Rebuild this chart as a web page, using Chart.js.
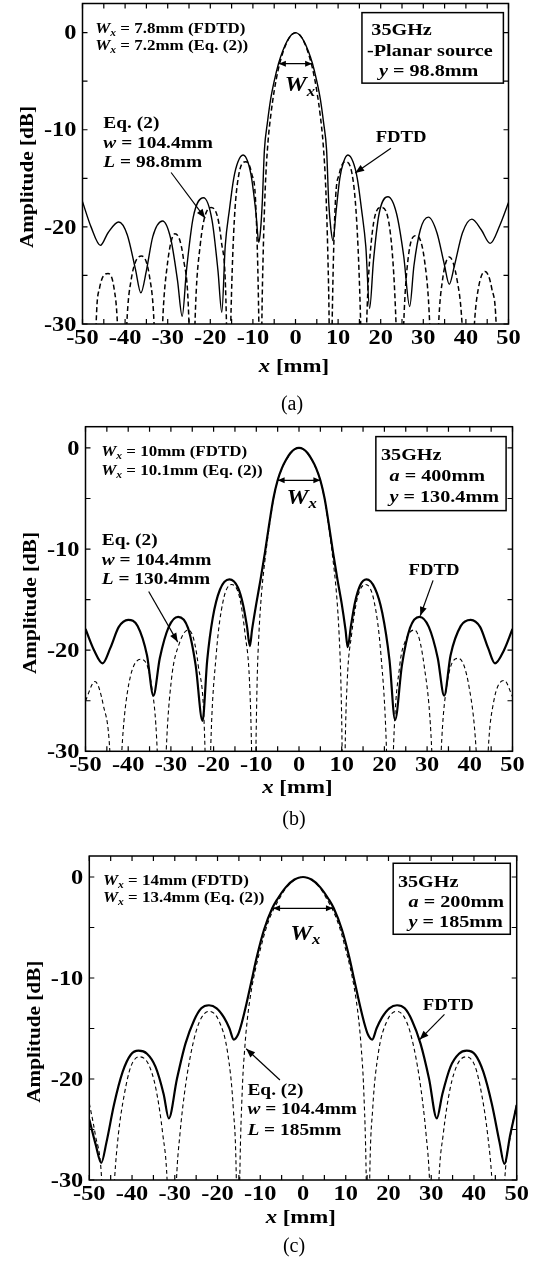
<!DOCTYPE html>
<html>
<head>
<meta charset="utf-8">
<script src="https://cdn.jsdelivr.net/npm/chart.js@4.4.1/dist/chart.umd.min.js"></script>
<style>
  body { margin: 0; background: #fff; width: 537px; height: 1263px; position: relative; overflow: hidden; }
  .panel { position: absolute; left: 0; width: 537px; }
  canvas { display: block; }
</style>
</head>
<body>
<div class="panel" style="top:0;height:420px"><canvas id="chartA" width="537" height="420"></canvas></div>
<div class="panel" style="top:420px;height:420px"><canvas id="chartB" width="537" height="420"></canvas></div>
<div class="panel" style="top:840px;height:423px"><canvas id="chartC" width="537" height="423"></canvas></div>
<script>
const SERIF = '"Liberation Serif","Times New Roman",serif';

// axis ticks (labelled)
const xTicks = [-50, -40, -30, -20, -10, 0, 10, 20, 30, 40, 50];
const yTicks = [-30, -20, -10, 0];

// (a) planar source, y = 98.8mm   [x mm, dB]
const fdtdA = [[-50,-17.4],[-48,-20.0],[-45.8,-21.9],[-44,-20.6],[-41.5,-19.5],[-39.5,-20.8],[-37.6,-24.3],[-36.3,-26.8],
  [-35,-24.5],[-33.5,-21.0],[-31.2,-19.4],[-29.3,-21.2],[-27.7,-25.5],[-26.6,-29.2],[-25.6,-24.5],[-24,-19.0],[-21.6,-17.0],
  [-19.6,-19.3],[-18.2,-24.5],[-17.3,-28.8],[-16.5,-22.0],[-15.5,-18.2],[-14.5,-15.0],[-13.5,-13.3],[-12.3,-12.6],[-11.2,-13.3],
  [-10.3,-15.0],[-9.3,-18.5],[-8.6,-21.6],[-8.2,-20.3],[-7.8,-17.5],[-7.3,-12.1],[-6.6,-9.3],[-5.85,-6.9],[-5,-5.0],[-4,-3.2],
  [-3,-1.9],[-2,-0.9],[-1,-0.25],[0,0],[1,-0.25],[2,-0.9],[3,-1.9],[4,-3.2],[5,-5.0],[5.85,-6.9],[6.6,-9.3],[7.3,-12.1],
  [7.8,-17.5],[8.3,-20.2],[8.8,-21.4],[9.5,-18.5],[10.4,-15.0],[11.3,-13.3],[12.3,-12.6],[13.5,-13.3],[14.5,-15.0],[15.5,-18.2],
  [16.5,-22.0],[17.4,-28.4],[18.3,-23.5],[19.6,-18.7],[21.7,-16.9],[23.7,-18.6],[25.4,-23.0],[26.8,-28.2],[27.8,-24.0],
  [29.3,-20.3],[31.2,-19.0],[33.2,-20.6],[34.9,-23.8],[36.1,-25.9],[37.3,-24.0],[39.2,-20.6],[41.4,-19.2],[43.6,-20.3],
  [45.7,-21.7],[48,-19.8],[50,-17.5]];
const eqA = [[-50,-45],[-47.5,-45],[-46.8,-30],[-46.0,-26.3],[-44.0,-24.8],[-42.6,-26.3],[-41.8,-30],[-40.7,-45],[-39.6,-30],
  [-38.6,-25.5],[-36.1,-23.0],[-34.2,-25.3],[-33.2,-30],[-32.2,-45],[-31.2,-30],[-30.2,-24.3],[-28.3,-20.7],[-26.3,-23.3],
  [-25.0,-30],[-24.3,-45],[-23.6,-30],[-22.4,-22.0],[-19.8,-18.0],[-17.4,-21.5],[-16.2,-30],[-15.8,-45],[-15.2,-30],
  [-14.5,-20.5],[-13.3,-14.6],[-11.7,-13.3],[-10.3,-14.5],[-9.3,-18],[-8.6,-30],[-8.2,-45],[-7.9,-30],[-7.6,-23],[-7.1,-16],
  [-6.5,-11.5],[-5.8,-8.5],[-5,-6.0],[-4,-3.7],[-3,-2.1],[-2,-0.95],[-1,-0.25],[0,0],[1,-0.25],[2,-0.95],[3,-2.1],[4,-3.7],
  [5,-6.0],[5.8,-8.5],[6.5,-11.5],[7.1,-16],[7.6,-23],[7.9,-30],[8.2,-45],[8.6,-30],[9.3,-18],[10.3,-14.5],[11.7,-13.3],
  [13.3,-14.6],[14.5,-20.5],[15.3,-30],[16.0,-45],[16.7,-30],[17.8,-21.5],[20.1,-18.0],[22.5,-21.6],[23.6,-30],[24.5,-45],
  [25.4,-30],[26.4,-23.4],[28.3,-20.9],[30.3,-23.5],[31.5,-30],[32.5,-45],[33.6,-30],[34.5,-25.5],[36.1,-23.1],[37.9,-25.4],
  [39.1,-30],[40.5,-45],[42.0,-30],[42.9,-26.4],[44.5,-24.6],[46.1,-26.4],[47.1,-30],[48,-45],[50,-45]];

// (b) a = 400mm, y = 130.4mm
const fdtdB = [[-50,-17.9],[-48,-20.0],[-46,-21.3],[-44.2,-19.8],[-42.2,-17.7],[-40,-17.0],[-37.8,-17.6],[-35.6,-20.5],
  [-34.1,-24.5],[-32.6,-20.8],[-30.5,-17.7],[-28.3,-16.7],[-26,-17.8],[-24.2,-21.5],[-22.6,-27.0],[-21.5,-21.0],[-20.2,-16.8],
  [-18.5,-14.0],[-16.3,-13.0],[-14.3,-13.8],[-13.1,-15.5],[-12.2,-17.6],[-11.5,-19.6],[-11,-18.0],[-10,-15.4],[-9,-13.0],
  [-8,-10.4],[-7,-7.6],[-6,-5.0],[-5,-3.2],[-4,-2.0],[-3,-1.15],[-2,-0.5],[-1,-0.12],[0,0],[1,-0.12],[2,-0.5],[3,-1.15],
  [4,-2.0],[5,-3.2],[6,-5.0],[7,-7.6],[8,-10.4],[9,-13.0],[10,-15.4],[10.9,-18.0],[11.4,-19.7],[12.2,-17.5],[13.1,-15.3],
  [14.3,-13.6],[15.8,-13.0],[17.8,-13.9],[19.5,-16.3],[21.2,-21.0],[22.5,-26.9],[24.1,-21.5],[26,-17.8],[28.2,-16.7],
  [30.4,-17.7],[32.5,-20.8],[34,-24.5],[35.5,-20.5],[37.9,-17.6],[40.2,-17.0],[42.4,-17.7],[44.3,-19.8],[45.9,-21.3],
  [48,-20.0],[50,-17.9]];
const eqB = [[-50,-25.0],[-47.8,-23.1],[-45.8,-25.5],[-44.3,-30],[-43.0,-45],[-41.5,-30],[-40.2,-24.2],[-37.0,-20.9],
  [-34.5,-23.6],[-33.2,-30],[-32.2,-45],[-31.1,-30],[-29.9,-23.0],[-28.0,-19.3],[-25.9,-18.0],[-23.6,-21.5],[-22.0,-30],
  [-21.4,-45],[-20.7,-30],[-19.4,-20.5],[-17.8,-15.2],[-15.8,-13.5],[-13.9,-14.8],[-12.6,-18.5],[-11.6,-23],[-11.1,-30],
  [-10.6,-45],[-10.1,-30],[-9.8,-23],[-9.4,-18.5],[-8.8,-14.5],[-8,-11.2],[-7,-7.9],[-6,-5.1],[-5,-3.2],[-4,-2.05],[-3,-1.2],
  [-2,-0.55],[-1,-0.14],[0,0],[1,-0.14],[2,-0.55],[3,-1.2],[4,-2.05],[5,-3.2],[6,-5.1],[7,-7.9],[8,-11.2],[8.8,-14.5],
  [9.4,-18.5],[9.8,-23],[10.1,-30],[10.4,-45],[10.8,-30],[11.3,-23],[12.3,-18.5],[13.7,-14.8],[15.6,-13.5],[17.6,-15.2],
  [19.2,-20.5],[20.5,-30],[21.3,-45],[22.1,-30],[23.6,-21.5],[25.0,-19.0],[27.0,-18.0],[29.3,-21.5],[31.1,-30],[32.2,-45],
  [33.3,-30],[34.5,-23.8],[37.3,-20.8],[39.9,-23.8],[41.5,-30],[43.0,-45],[44.3,-30],[45.5,-25.3],[48.1,-23.0],[50,-24.6]];

// (c) a = 200mm, y = 185mm
const fdtdC = [[-50,-24.0],[-48.5,-26.5],[-47.2,-28.3],[-46.0,-26.3],[-44.2,-22.5],[-42.2,-19.3],[-40.3,-17.6],[-38.5,-17.2],
  [-36.5,-17.5],[-34.5,-18.8],[-32.6,-21.5],[-31.4,-23.9],[-29.5,-20.0],[-27.5,-16.5],[-25.5,-14.2],[-23.8,-13.0],[-22,-12.7],
  [-20.2,-13.0],[-18.5,-13.9],[-17.2,-15.0],[-16.2,-16.1],[-15.2,-15.6],[-14.3,-14.4],[-13.2,-12.5],[-12,-10.2],[-10.8,-7.9],
  [-9.1,-5.2],[-7.2,-3.1],[-6,-2.2],[-4,-1.0],[-2,-0.25],[0,0],[2,-0.25],[4,-1.0],[6,-2.2],[7.2,-3.1],[9.1,-5.2],[10.8,-7.9],
  [12,-10.2],[13.2,-12.5],[14.3,-14.4],[15.2,-15.6],[16.2,-16.1],[17.2,-15.0],[18.5,-13.9],[20.2,-13.0],[22,-12.7],[23.8,-13.0],
  [25.5,-14.2],[27.5,-16.5],[29.5,-20.0],[31.3,-23.9],[32.6,-21.5],[34.5,-18.8],[36.5,-17.5],[38.3,-17.2],[40.3,-17.6],
  [42.2,-19.3],[44.2,-22.5],[46,-26.3],[47.1,-28.4],[48.5,-25.5],[50,-22.6]];
const eqC = [[-50,-22.4],[-48.6,-25.5],[-47.1,-30],[-45.8,-45],[-44.1,-30],[-43.2,-25.5],[-41.8,-21.5],[-40.3,-18.8],
  [-38.3,-17.8],[-36.2,-18.5],[-34.4,-21],[-32.8,-25.5],[-31.8,-30],[-30.7,-45],[-29.6,-30],[-28.8,-25.5],[-27.6,-21],
  [-26,-17],[-24.3,-14.4],[-22,-13.3],[-19.6,-14.3],[-17.6,-17.5],[-16.3,-23],[-15.6,-30],[-15.2,-45],[-14.8,-30],[-14.2,-21],
  [-13.6,-16.8],[-13,-14.0],[-12,-11.0],[-11,-8.9],[-10,-7.2],[-9,-5.6],[-8,-4.3],[-7,-3.3],[-6,-2.5],[-4,-1.1],[-2,-0.3],[0,0],
  [2,-0.3],[4,-1.1],[6,-2.5],[7,-3.3],[8,-4.3],[9,-5.6],[10,-7.2],[11,-8.9],[12,-11.0],[13,-14.0],[13.6,-16.8],[14.2,-21],
  [14.8,-30],[15.2,-45],[15.6,-30],[16.3,-23],[17.6,-17.5],[19.6,-14.3],[22,-13.3],[24.3,-14.4],[26,-17],[27.6,-21],[28.8,-25.5],
  [29.6,-30],[30.7,-45],[31.8,-30],[32.8,-25.5],[34.4,-21],[36.2,-18.5],[38.3,-17.8],[40.3,-18.8],[41.8,-21.5],[43.2,-25.5],
  [44.2,-30],[45.8,-45],[47.2,-30],[48.6,-25.5],[50,-22.4]];

// layout and annotations (annotation anchors in data units)
const panelA = {
  id: 'chartA', height: 420, area: { left: 82.5, right: 508.5, top: 3.5, bottom: 324 }, yMax: 3.0,
  solidWidth: 1.4, dashWidth: 1.5, dash: [5, 3],
  wxNote: { x: -47, y: [-0.05, -1.8], values: ['7.8mm (FDTD)', '7.2mm (Eq. (2))'] },
  wxArrow: { y: -3.2, half: 3.9 }, wxLabel: { x: -2.5, y: -6.06 },
  box: { x1: 15.6, x2: 48.8, y1: 2.06, y2: -5.2, lines: [
    { x: 17.8, y: -0.24, segs: [['35GHz', '']] },
    { x: 16.8, y: -2.4, segs: [['-Planar source', '']] },
    { x: 19.6, y: -4.45, segs: [['y', 'i'], [' = 98.8mm', '']] }] },
  eqNote: { x: -45.1, y: [-9.8, -11.9, -13.8], L: '98.8mm' },
  eqArrow: { from: [-29.2, -14.4], to: [-21.2, -19.1] },
  fdtdNote: { x: 24.8, y: -11.3 }, fdtdArrow: { from: [22.4, -11.9], to: [14.0, -14.45] },
  yTitle: { x: 33, y: 177 }, xTitle: { x: 294, y: 372 }, caption: { text: '(a)', x: 292, y: 405 }
};
const panelB = {
  id: 'chartB', height: 420, area: { left: 85.5, right: 512.5, top: 6.7, bottom: 331.3 }, yMax: 2.1,
  solidWidth: 2.2, dashWidth: 1.1, dash: [4, 3],
  wxNote: { x: -46.3, y: [-0.8, -2.7], values: ['10mm (FDTD)', '10.1mm (Eq. (2))'] },
  wxArrow: { y: -3.2, half: 5.0 }, wxLabel: { x: -2.9, y: -5.5 },
  box: { x1: 18.0, x2: 48.5, y1: 1.12, y2: -6.2, lines: [
    { x: 19.2, y: -1.19, segs: [['35GHz', '']] },
    { x: 21.2, y: -3.27, segs: [['a', 'i'], [' = 400mm', '']] },
    { x: 21.2, y: -5.3, segs: [['y', 'i'], [' = 130.4mm', '']] }] },
  eqNote: { x: -46.2, y: [-9.6, -11.6, -13.5], L: '130.4mm' },
  eqArrow: { from: [-35.2, -14.2], to: [-28.4, -19.2] },
  fdtdNote: { x: 31.6, y: -12.6 }, fdtdArrow: { from: [31.4, -13.1], to: [28.4, -16.6] },
  yTitle: { x: 35.9, y: 183 }, xTitle: { x: 297.4, y: 372.5 }, caption: { text: '(b)', x: 294, y: 400 }
};
const panelC = {
  id: 'chartC', height: 423, area: { left: 89.3, right: 516.7, top: 16, bottom: 340 }, yMax: 2.08,
  solidWidth: 2.2, dashWidth: 1.1, dash: [4, 3],
  wxNote: { x: -46.8, y: [-0.8, -2.45], values: ['14mm (FDTD)', '13.4mm (Eq. (2))'] },
  wxArrow: { y: -3.1, half: 7.0 }, wxLabel: { x: -3.0, y: -6.2 },
  box: { x1: 21.1, x2: 48.5, y1: 1.36, y2: -5.67, lines: [
    { x: 22.2, y: -0.96, segs: [['35GHz', '']] },
    { x: 24.7, y: -2.94, segs: [['a', 'i'], [' = 200mm', '']] },
    { x: 24.7, y: -4.98, segs: [['y', 'i'], [' = 185mm', '']] }] },
  eqNote: { x: -13.0, y: [-21.6, -23.5, -25.5], L: '185mm' },
  eqArrow: { from: [-5.4, -20.1], to: [-13.3, -17.0] },
  fdtdNote: { x: 34.0, y: -13.2 }, fdtdArrow: { from: [33.1, -13.6], to: [27.3, -16.1] },
  yTitle: { x: 40.3, y: 191.7 }, xTitle: { x: 300.8, y: 383 }, caption: { text: '(c)', x: 294, y: 407 }
};

function fontOf(size, st) {
  return (st.includes('i') ? 'italic ' : '') + 'bold ' + size + 'px ' + SERIF;
}

// text runs drawn with a slight horizontal stretch, the source font is wider than Times
function drawRich(ctx, x, y, segs, size, stretch, align) {
  let w = 0;
  segs.forEach(([t, st]) => {
    ctx.font = fontOf(st.includes('s') ? size * 0.68 : size, st);
    w += ctx.measureText(t).width;
  });
  w *= stretch;
  const x0 = align === 'center' ? x - w / 2 : align === 'right' ? x - w : x;
  ctx.save();
  ctx.translate(x0, y);
  ctx.scale(stretch, 1);
  ctx.textAlign = 'left';
  ctx.textBaseline = 'alphabetic';
  let cx = 0;
  segs.forEach(([t, st]) => {
    const sub = st.includes('s');
    ctx.font = fontOf(sub ? size * 0.68 : size, st);
    ctx.fillText(t, cx, sub ? size * 0.2 : 0);
    cx += ctx.measureText(t).width;
  });
  ctx.restore();
}

function arrowHead(ctx, x1, y1, x2, y2, len, half) {
  const a = Math.atan2(y2 - y1, x2 - x1), c = Math.cos(a), s = Math.sin(a);
  ctx.beginPath();
  ctx.moveTo(x2, y2);
  ctx.lineTo(x2 - c * len + s * half, y2 - s * len - c * half);
  ctx.lineTo(x2 - c * len - s * half, y2 - s * len + c * half);
  ctx.closePath();
  ctx.fill();
}

function arrow(ctx, x1, y1, x2, y2, len, half) {
  ctx.beginPath();
  ctx.moveTo(x1, y1);
  ctx.lineTo(x2, y2);
  ctx.stroke();
  arrowHead(ctx, x1, y1, x2, y2, len, half);
}

function decor(p) {
  return {
    id: 'decor',
    afterDraw(chart) {
      const { ctx, chartArea: a } = chart;
      const sx = chart.scales.x, sy = chart.scales.y;
      const X = v => sx.getPixelForValue(v), Y = v => sy.getPixelForValue(v);
      ctx.save();
      ctx.strokeStyle = '#000';
      ctx.fillStyle = '#000';

      // frame and inward ticks
      ctx.lineWidth = 1.5;
      ctx.strokeRect(a.left, a.top, a.right - a.left, a.bottom - a.top);
      ctx.lineWidth = 1.2;
      ctx.beginPath();
      for (let v = xTicks[0]; v <= xTicks[xTicks.length - 1]; v += 5) {
        ctx.moveTo(X(v), a.bottom); ctx.lineTo(X(v), a.bottom - 5);
        ctx.moveTo(X(v), a.top); ctx.lineTo(X(v), a.top + 5);
      }
      for (let v = yTicks[0]; v <= yTicks[yTicks.length - 1]; v += 5) {
        ctx.moveTo(a.left, Y(v)); ctx.lineTo(a.left + 5, Y(v));
        ctx.moveTo(a.right, Y(v)); ctx.lineTo(a.right - 5, Y(v));
      }
      ctx.stroke();

      // tick labels from the scales' ticks
      sx.ticks.forEach(t => drawRich(ctx, X(t.value), a.bottom + 19.8, [[String(t.value), '']], 20, 1.22, 'center'));
      sy.ticks.forEach(t => drawRich(ctx, a.left - 6, Y(t.value) + 6.7, [[String(t.value), '']], 20, 1.22, 'right'));

      // W_x notes, top left
      p.wxNote.values.forEach((val, i) => {
        drawRich(ctx, X(p.wxNote.x), Y(p.wxNote.y[i]), [['W', 'i'], ['x', 'is'], [' = ' + val, '']], 15, 1.13, 'left');
      });

      // W_x double arrow and label
      ctx.lineWidth = 1.3;
      const ay = Y(p.wxArrow.y), ax1 = X(-p.wxArrow.half), ax2 = X(p.wxArrow.half);
      ctx.beginPath(); ctx.moveTo(ax1, ay); ctx.lineTo(ax2, ay); ctx.stroke();
      arrowHead(ctx, ax2, ay, ax1, ay, 7, 3);
      arrowHead(ctx, ax1, ay, ax2, ay, 7, 3);
      drawRich(ctx, X(p.wxLabel.x), Y(p.wxLabel.y), [['W', 'i'], ['x', 'is']], 22, 1.12, 'left');

      // parameter box
      const b = p.box;
      ctx.fillStyle = '#fff';
      ctx.fillRect(X(b.x1), Y(b.y1), X(b.x2) - X(b.x1), Y(b.y2) - Y(b.y1));
      ctx.fillStyle = '#000';
      ctx.lineWidth = 1.5;
      ctx.strokeRect(X(b.x1), Y(b.y1), X(b.x2) - X(b.x1), Y(b.y2) - Y(b.y1));
      b.lines.forEach(l => drawRich(ctx, X(l.x), Y(l.y), l.segs, 16, 1.26, 'left'));

      // Eq. (2) note with arrow
      const eqLines = [[['Eq. (2)', '']], [['w', 'i'], [' = 104.4mm', '']], [['L', 'i'], [' = ' + p.eqNote.L, '']]];
      eqLines.forEach((segs, i) => drawRich(ctx, X(p.eqNote.x), Y(p.eqNote.y[i]), segs, 17, 1.14, 'left'));
      ctx.lineWidth = 1.2;
      arrow(ctx, X(p.eqArrow.from[0]), Y(p.eqArrow.from[1]), X(p.eqArrow.to[0]), Y(p.eqArrow.to[1]), 9, 3.5);

      // FDTD note with arrow
      drawRich(ctx, X(p.fdtdNote.x), Y(p.fdtdNote.y), [['FDTD', '']], 16, 1.17, 'center');
      arrow(ctx, X(p.fdtdArrow.from[0]), Y(p.fdtdArrow.from[1]), X(p.fdtdArrow.to[0]), Y(p.fdtdArrow.to[1]), 9, 3.5);

      // axis titles
      ctx.save();
      ctx.translate(p.yTitle.x, p.yTitle.y);
      ctx.rotate(-Math.PI / 2);
      drawRich(ctx, 0, 0, [['Amplitude [dB]', '']], 18, 1.18, 'center');
      ctx.restore();
      drawRich(ctx, p.xTitle.x, p.xTitle.y, [['x', 'i'], [' [mm]', '']], 19, 1.2, 'center');

      // caption
      ctx.font = '20px ' + SERIF;
      ctx.textAlign = 'center';
      ctx.textBaseline = 'middle';
      ctx.fillText(p.caption.text, p.caption.x, p.caption.y);
      ctx.restore();
    }
  };
}

function makeChart(p, fdtd, eq) {
  return new Chart(document.getElementById(p.id), {
    type: 'line',
    data: {
      datasets: [
        { label: 'FDTD', data: fdtd.map(([x, y]) => ({ x, y })), borderColor: '#000', borderWidth: p.solidWidth,
          pointRadius: 0, cubicInterpolationMode: 'monotone', fill: false },
        { label: 'Eq. (2)', data: eq.map(([x, y]) => ({ x, y })), borderColor: '#000', borderWidth: p.dashWidth,
          borderDash: p.dash, pointRadius: 0, cubicInterpolationMode: 'monotone', fill: false }
      ]
    },
    options: {
      responsive: false,
      animation: false,
      events: [],
      layout: { padding: { top: p.area.top, right: 537 - p.area.right, left: 0, bottom: 0 } },
      plugins: { legend: { display: false }, tooltip: { enabled: false } },
      scales: {
        x: {
          type: 'linear', min: xTicks[0], max: xTicks[xTicks.length - 1],
          grid: { display: false, drawTicks: false }, border: { display: false },
          ticks: { display: false },
          afterBuildTicks: s => { s.ticks = xTicks.map(v => ({ value: v })); },
          afterFit: s => { s.height = p.height - p.area.bottom; s.paddingLeft = 0; s.paddingRight = 0; }
        },
        y: {
          type: 'linear', min: yTicks[0], max: p.yMax,
          grid: { display: false, drawTicks: false }, border: { display: false },
          ticks: { display: false },
          afterBuildTicks: s => { s.ticks = yTicks.map(v => ({ value: v })); },
          afterFit: s => { s.width = p.area.left; s.paddingTop = 0; s.paddingBottom = 0; }
        }
      }
    },
    plugins: [decor(p)]
  });
}

makeChart(panelA, fdtdA, eqA);
makeChart(panelB, fdtdB, eqB);
makeChart(panelC, fdtdC, eqC);
</script>
</body>
</html>
